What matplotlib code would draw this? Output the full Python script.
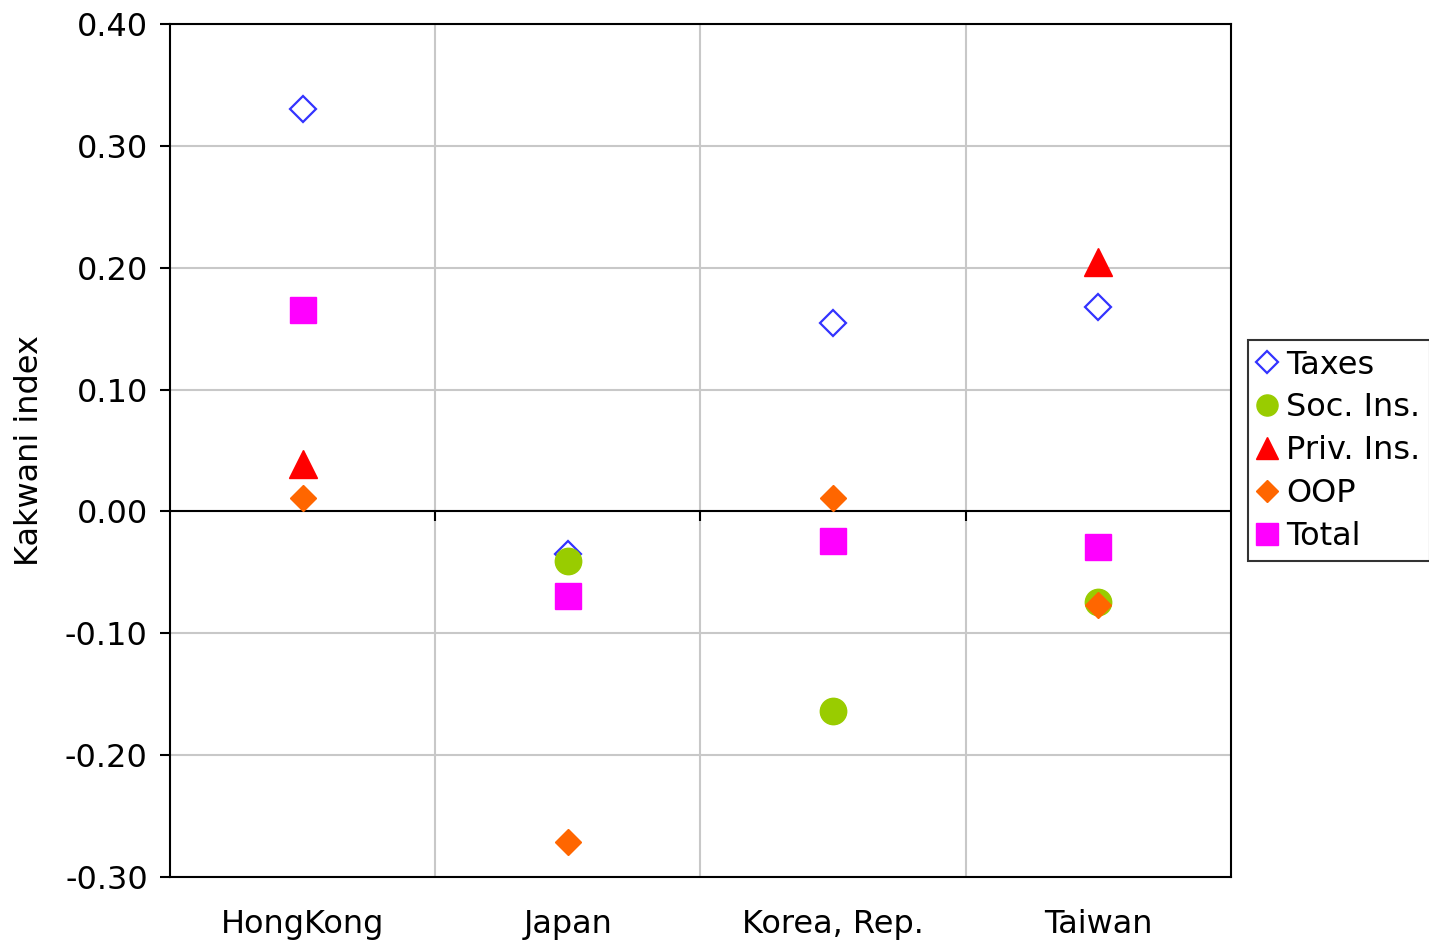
import numpy as np
import matplotlib
matplotlib.use("Agg")
import matplotlib.pyplot as plt
from matplotlib.ticker import FormatStrFormatter, FixedLocator
from matplotlib.markers import TICKDOWN

plt.rcParams['font.family'] = ['DejaVu Sans']
plt.rcParams['axes.unicode_minus'] = False

# Kakwani index par pays et par source de financement
countries = ['HongKong', 'Japan', 'Korea, Rep.', 'Taiwan']
taxes = [0.330, -0.035, 0.155, 0.168]
soc_ins = [np.nan, -0.041, -0.164, -0.074]
priv_ins = [0.039, np.nan, np.nan, 0.205]
oop = [0.011, -0.271, 0.011, -0.077]
total = [0.165, -0.069, -0.024, -0.029]

fig = plt.figure(figsize=(14.29, 9.42), dpi=100)
ax = fig.add_axes([170/1429, 1-877/942, 1061/1429, 853/942])

x = np.arange(len(countries)) + 0.5
bounds = np.arange(1, len(countries))

ax.plot(x, taxes, 'D', ms=13.5, mfc='white', mec='#3333FF', mew=1.6, label='Taxes', zorder=3)
ax.plot(x, soc_ins, 'o', ms=19, color='#99CC00', label='Soc. Ins.', zorder=3)
ax.plot(x, priv_ins, '^', ms=20, color='#FF0000', label='Priv. Ins.', zorder=3)
ax.plot(x, oop, 'D', ms=13.5, color='#FF6600', label='OOP', zorder=3)
ax.plot(x, total, 's', ms=19, color='#FF00FF', label='Total', zorder=3)

ax.set_xlim(0, len(countries))
ax.set_ylim(-0.30, 0.40)
ax.set_yticks(np.arange(-0.30, 0.401, 0.10))
ax.yaxis.set_major_formatter(FormatStrFormatter('%.2f'))
ax.tick_params(axis='y', direction='out', length=7, width=1.5, labelsize=23, pad=9)

# separations entre pays (grille verticale), libelles au centre
ax.xaxis.set_major_locator(FixedLocator(bounds))
ax.xaxis.set_minor_locator(FixedLocator(x))
ax.set_xticklabels([], minor=False)
ax.set_xticklabels(countries, minor=True)
ax.tick_params(axis='x', which='major', length=0)
ax.tick_params(axis='x', which='minor', length=0, labelsize=23, pad=23)

ax.grid(True, axis='both', which='major', color='#C8C8C8', lw=1.5)
ax.set_axisbelow(True)
for s in ax.spines.values():
    s.set_linewidth(1.5)
    s.set_color('black')

# axe horizontal au niveau zero avec petites graduations
ax.axhline(0, color='black', lw=1.5, zorder=2)
ax.plot(bounds, np.zeros(len(bounds)), ls='none', marker=TICKDOWN, ms=7,
        mew=1.5, color='black', zorder=2, clip_on=False)

fig.text(30/1429, 1-450/942, 'Kakwani index', rotation=90, ha='center', va='center', fontsize=23)

leg = ax.legend(loc='upper left', bbox_to_anchor=(1248/1429, 1-340/942),
                bbox_transform=fig.transFigure, fontsize=23, frameon=True,
                fancybox=False, edgecolor='black', borderpad=0.3,
                handlelength=0.6, handletextpad=0.3, labelspacing=0.37,
                markerscale=0.8, borderaxespad=0)
leg.get_frame().set_linewidth(1.5)

fig.savefig('out.png', dpi=100)
